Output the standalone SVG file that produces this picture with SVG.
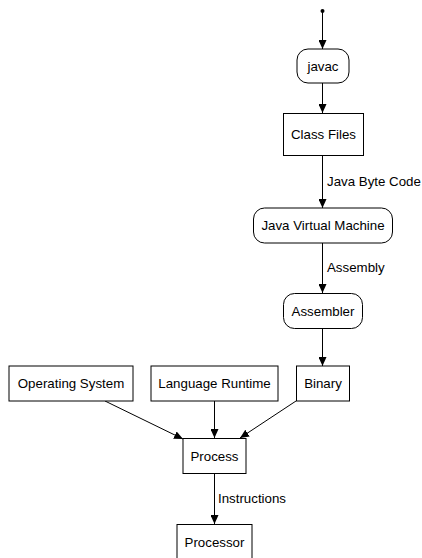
<svg xmlns="http://www.w3.org/2000/svg" width="422" height="558" viewBox="0 0 422 558">
<defs>
<style>
.n{fill:#fff;stroke:#000;stroke-width:1}
text{font-family:"Liberation Sans",Arial,sans-serif;font-size:13.3px;fill:#000}
.c{text-anchor:middle}
.e{stroke:#000;stroke-width:1;fill:none;marker-end:url(#ah)}
</style>
<marker id="ah" markerUnits="userSpaceOnUse" markerWidth="9" markerHeight="8" refX="9" refY="4" orient="auto">
<path d="M0,0 L9,4 L0,8 z" fill="#000"/>
</marker>
</defs>
<rect width="422" height="558" fill="#fff"/>
<g id="edges">
<circle cx="322.5" cy="11" r="2" fill="#000"/>
<line class="e" x1="322.5" y1="11" x2="322.5" y2="49"/>
<line class="e" x1="322.5" y1="83" x2="322.5" y2="113"/>
<line class="e" x1="322.5" y1="156" x2="322.5" y2="208"/>
<text x="327" y="186">Java Byte Code</text>
<line class="e" x1="322.5" y1="243" x2="322.5" y2="293"/>
<text x="327" y="272">Assembly</text>
<line class="e" x1="322.5" y1="329" x2="322.5" y2="366"/>
<line class="e" x1="105" y1="401" x2="183" y2="439"/>
<line class="e" x1="214.5" y1="401" x2="214.5" y2="438"/>
<line class="e" x1="296" y1="401" x2="240" y2="438"/>
<line class="e" x1="214.5" y1="473" x2="214.5" y2="524"/>
<text x="218" y="503">Instructions</text>
</g>
<g id="javac"><rect class="n" x="297" y="49" width="52" height="34" rx="11"/><text class="c" x="323" y="70.5">javac</text></g>
<g id="classfiles"><rect class="n" x="283.5" y="113.5" width="80" height="42"/><text class="c" x="323.5" y="139">Class Files</text></g>
<g id="jvm"><rect class="n" x="253.5" y="208" width="139" height="35" rx="11"/><text class="c" x="323" y="230">Java Virtual Machine</text></g>
<g id="assembler"><rect class="n" x="283.5" y="293.5" width="79" height="35" rx="11"/><text class="c" x="323" y="315.5">Assembler</text></g>
<g id="os"><rect class="n" x="9" y="366" width="124" height="35"/><text class="c" x="71" y="388">Operating System</text></g>
<g id="runtime"><rect class="n" x="151" y="366" width="127" height="35"/><text class="c" x="214.5" y="388">Language Runtime</text></g>
<g id="binary"><rect class="n" x="296.5" y="366" width="53" height="35"/><text class="c" x="323" y="388">Binary</text></g>
<g id="process"><rect class="n" x="183" y="438.5" width="63" height="35"/><text class="c" x="214.5" y="460.5">Process</text></g>
<g id="processor"><rect class="n" x="177" y="524.5" width="75" height="34"/><text class="c" x="214.5" y="546.5">Processor</text></g>
</svg>
